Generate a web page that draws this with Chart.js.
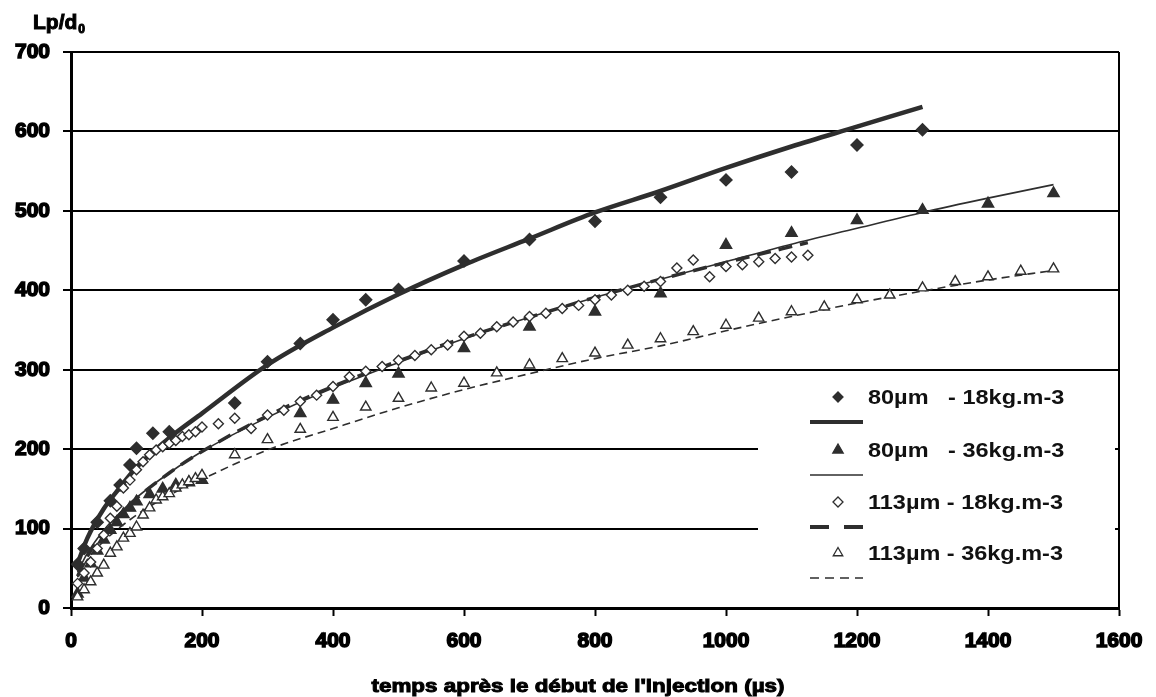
<!DOCTYPE html>
<html>
<head>
<meta charset="utf-8">
<script src="https://cdn.jsdelivr.net/npm/chart.js@4.4.1/dist/chart.umd.min.js"></script>
<style>
  html, body { margin: 0; padding: 0; background: #fff; }
  #wrap { width: 1156px; height: 697px; position: relative; }
</style>
</head>
<body>
<div id="wrap"><canvas id="c" width="1156" height="697"></canvas></div>
<script>
// ---------- DATA ----------
const xTicks = [0, 200, 400, 600, 800, 1000, 1200, 1400, 1600];
const yTicks = [0, 100, 200, 300, 400, 500, 600, 700];

const seriesLabels = ['80\u00b5m   - 18kg.m-3', '80\u00b5m   - 36kg.m-3', '113\u00b5m - 18kg.m-3', '113\u00b5m - 36kg.m-3'];

// 80µm - 18kg.m-3 (filled diamonds)
const s1x = [10, 20, 40, 60, 75, 90, 100, 125, 150, 250, 300, 350, 400, 450, 500, 600, 700, 800, 900, 1000, 1100, 1200, 1300];
const s1y = [55, 75, 108, 135, 155, 180, 201, 220, 222, 258, 310, 333, 363, 388, 401, 437, 464, 487, 517, 539, 549, 583, 602];
// fit line 80µm - 18kg.m-3 (thick solid)
const f1x = [10, 25, 50, 75, 100, 150, 200, 300, 400, 500, 600, 700, 800, 900, 1000, 1100, 1200, 1300];
const f1y = [56, 88, 125, 152, 177, 214, 245, 306, 353, 395, 432, 465, 498, 525, 554, 581, 606, 631];

// 80µm - 36kg.m-3 (filled triangles)
const s2x = [10, 20, 30, 40, 50, 60, 70, 80, 90, 100, 120, 140, 160, 180, 200, 350, 400, 450, 500, 600, 700, 800, 900, 1000, 1100, 1200, 1300, 1400, 1500];
const s2y = [18, 38, 56, 72, 86, 98, 108, 118, 126, 134, 143, 150, 155, 158, 161, 245, 262, 283, 295, 327, 354, 373, 396, 457, 472, 488, 501, 509, 522];
// fit line 80µm - 36kg.m-3 (thin solid)
const f2x = [10, 25, 50, 75, 100, 150, 200, 300, 400, 500, 600, 700, 800, 900, 1000, 1100, 1200, 1300, 1400, 1500];
const f2y = [45, 69, 98, 120, 139, 170, 197, 240, 277, 309, 339, 366, 391, 414, 436, 458, 478, 498, 516, 533];

// 113µm - 18kg.m-3 (open diamonds)
const s3x = [10, 20, 30, 40, 50, 60, 70, 80, 90, 100, 110, 120, 130, 140, 150, 160, 170, 180, 190, 200,
             225, 250, 275, 300, 325, 350, 375, 400, 425, 450, 475, 500, 525, 550, 575, 600, 625, 650, 675, 700,
             725, 750, 775, 800, 825, 850, 875, 900, 925, 950, 975, 1000, 1025, 1050, 1075, 1100, 1125];
const s3y = [31, 44, 58, 75, 92, 113, 128, 151, 161, 174, 184, 193, 199, 203, 207, 211, 216, 218, 222, 228,
             232, 239, 226, 243, 249, 260, 268, 279, 291, 298, 304, 312, 318, 325, 331, 342, 346, 354, 360, 367,
             371, 377, 381, 388, 394, 400, 405, 411, 428, 438, 417, 430, 432, 436, 440, 442, 444];
// fit line 113µm - 18kg.m-3 (thick dashed)
const f3x = [10, 25, 50, 75, 100, 150, 200, 300, 400, 500, 600, 700, 800, 900, 1000, 1125];
const f3y = [40, 65, 95, 118, 138, 170, 197, 242, 279, 311, 340, 366, 391, 414, 435, 460];

// 113µm - 36kg.m-3 (open triangles)
const s4x = [10, 20, 30, 40, 50, 60, 70, 80, 90, 100, 110, 120, 130, 140, 150, 160, 170, 180, 190, 200,
             250, 300, 350, 400, 450, 500, 550, 600, 650, 700, 750, 800, 850, 900, 950, 1000, 1050, 1100,
             1150, 1200, 1250, 1300, 1350, 1400, 1450, 1500];
const s4y = [14, 23, 33, 44, 54, 69, 77, 88, 94, 102, 117, 126, 136, 140, 144, 151, 155, 159, 163, 167,
             193, 212, 225, 240, 253, 264, 277, 283, 296, 306, 314, 321, 331, 339, 348, 356, 365, 373,
             379, 388, 394, 403, 411, 417, 424, 427];
// fit line 113µm - 36kg.m-3 (thin dashed)
const f4x = [10, 25, 50, 100, 150, 200, 300, 400, 500, 600, 700, 800, 900, 1000, 1100, 1200, 1300, 1400, 1500];
const f4y = [39, 61, 84, 117, 142, 162, 199, 226, 252, 275, 295, 314, 330, 349, 367, 384, 399, 413, 425];

// ---------- CHART ----------
const pts = (xs, ys) => xs.map((x, i) => ({ x: x, y: ys[i] }));
const DARK = '#2e2e2e';
const FONT = '"Liberation Sans", Arial, sans-serif';

const lineDs = (data, width, dash, order) => ({
  data: data, showLine: true, pointRadius: 0, pointHoverRadius: 0,
  borderColor: DARK, borderWidth: width, borderDash: dash, fill: false,
  cubicInterpolationMode: 'monotone', order: order, borderCapStyle: 'butt'
});
const markDs = (data, style, radius, fill, order) => ({
  data: data, showLine: false, pointStyle: style, pointRadius: radius, pointHoverRadius: radius,
  backgroundColor: fill, borderColor: DARK, borderWidth: 1.4, order: order
});

const legendPlugin = {
  id: 'customDecor',
  afterDatasetsDraw(chart) {
    const ctx = chart.ctx;
    const ca = chart.chartArea;
    ctx.save();
    // right border of plot area
    ctx.strokeStyle = '#000';
    ctx.lineWidth = 2;
    ctx.beginPath();
    ctx.moveTo(ca.right, ca.top);
    ctx.lineTo(ca.right, ca.bottom);
    ctx.stroke();

    // legend box
    ctx.fillStyle = '#fff';
    ctx.fillRect(758, 371, 357, 235);

    const mx = 838, lx0 = 810, lx1 = 863, tx = 868;
    const rows = [
      { y: 397, style: 'rectRot', r: 5, fill: DARK, lw: 4, dash: [] },
      { y: 450, style: 'triangle', r: 6, fill: DARK, lw: 1.4, dash: [] },
      { y: 502, style: 'rectRot', r: 5, fill: '#fff', lw: 4, dash: [19, 15] },
      { y: 553, style: 'triangle', r: 5.5, fill: '#fff', lw: 1.4, dash: [9, 6] }
    ];
    ctx.font = 'bold 20px ' + FONT;
    const wRef = ctx.measureText(seriesLabels[2]).width;
    const sx = 195 / wRef;
    rows.forEach((r, i) => {
      ctx.fillStyle = r.fill;
      ctx.strokeStyle = DARK;
      ctx.lineWidth = 1.3;
      ctx.setLineDash([]);
      Chart.helpers.drawPoint(ctx, { pointStyle: r.style, radius: r.r, rotation: 0, borderWidth: 1.3 }, mx, r.y);
      ctx.beginPath();
      ctx.lineWidth = r.lw;
      ctx.setLineDash(r.dash);
      ctx.moveTo(lx0, r.y + 25);
      ctx.lineTo(lx1, r.y + 25);
      ctx.stroke();
      ctx.setLineDash([]);
      ctx.save();
      ctx.translate(tx, r.y + 7);
      ctx.scale(sx, 1);
      ctx.fillStyle = '#111';
      ctx.textBaseline = 'alphabetic';
      ctx.textAlign = 'left';
      ctx.fillText(seriesLabels[i], 0, 0);
      ctx.restore();
    });

    // axis titles
    ctx.fillStyle = '#000';
    ctx.strokeStyle = '#000';
    ctx.lineWidth = 1;
    ctx.font = 'bold 19px ' + FONT;
    const title = "temps apr\u00e8s le d\u00e9but de l'injection (\u00b5s)";
    const tw = ctx.measureText(title).width;
    ctx.save();
    ctx.translate(578, 692);
    ctx.scale(413 / tw, 1);
    ctx.textAlign = 'center';
    ctx.fillText(title, 0, 0);
    ctx.strokeText(title, 0, 0);
    ctx.restore();

    ctx.font = 'bold 21px ' + FONT;
    ctx.textAlign = 'left';
    ctx.fillText('Lp/d', 33, 29);
    ctx.strokeText('Lp/d', 33, 29);
    const w = ctx.measureText('Lp/d').width;
    ctx.font = 'bold 12px ' + FONT;
    ctx.fillText('0', 33 + w + 1, 33);
    ctx.strokeText('0', 33 + w + 1, 33);
    ctx.restore();
  }
};

new Chart(document.getElementById('c'), {
  type: 'scatter',
  data: {
    datasets: [
      markDs(pts(s3x, s3y), 'rectRot', 5, '#fff', 1),
      markDs(pts(s4x, s4y), 'triangle', 6, '#fff', 2),
      lineDs(pts(f3x, f3y), 3.5, [14, 8], 3),
      lineDs(pts(f4x, f4y), 1.6, [8, 5], 4),
      markDs(pts(s2x, s2y), 'triangle', 6.5, DARK, 5),
      lineDs(pts(f2x, f2y), 1.6, [], 6),
      lineDs(pts(f1x, f1y), 4.5, [], 7),
      markDs(pts(s1x, s1y), 'rectRot', 6, DARK, 8)
    ]
  },
  options: {
    responsive: false,
    animation: false,
    events: [],
    layout: { padding: { top: 52, right: 37, left: 0, bottom: 0 } },
    plugins: { legend: { display: false }, tooltip: { enabled: false }, title: { display: false } },
    scales: {
      x: {
        type: 'linear', min: 0, max: 1600,
        afterBuildTicks: (s) => { s.ticks = xTicks.map(v => ({ value: v })); },
        afterFit: (s) => { s.height = 89; },
        ticks: { font: { family: FONT, size: 21, weight: 'bold' }, color: '#000', padding: 13,
                 textStrokeColor: '#000', textStrokeWidth: 1.5, maxRotation: 0, autoSkip: false,
                 callback: (v) => String(v) },
        grid: { drawOnChartArea: false, drawTicks: true, tickLength: 8, tickWidth: 2, tickColor: '#000' },
        border: { display: true, color: '#000', width: 3 }
      },
      y: {
        type: 'linear', min: 0, max: 700,
        afterBuildTicks: (s) => { s.ticks = yTicks.map(v => ({ value: v })); },
        afterFit: (s) => { s.width = 71; },
        ticks: { font: { family: FONT, size: 21, weight: 'bold' }, color: '#000', padding: 13,
                 textStrokeColor: '#000', textStrokeWidth: 1.5, autoSkip: false,
                 callback: (v) => String(v) },
        grid: { color: '#000', lineWidth: 2, drawTicks: true, tickLength: 8, tickWidth: 2, tickColor: '#000' },
        border: { display: true, color: '#000', width: 3 }
      }
    }
  },
  plugins: [legendPlugin]
});
</script>
</body>
</html>
